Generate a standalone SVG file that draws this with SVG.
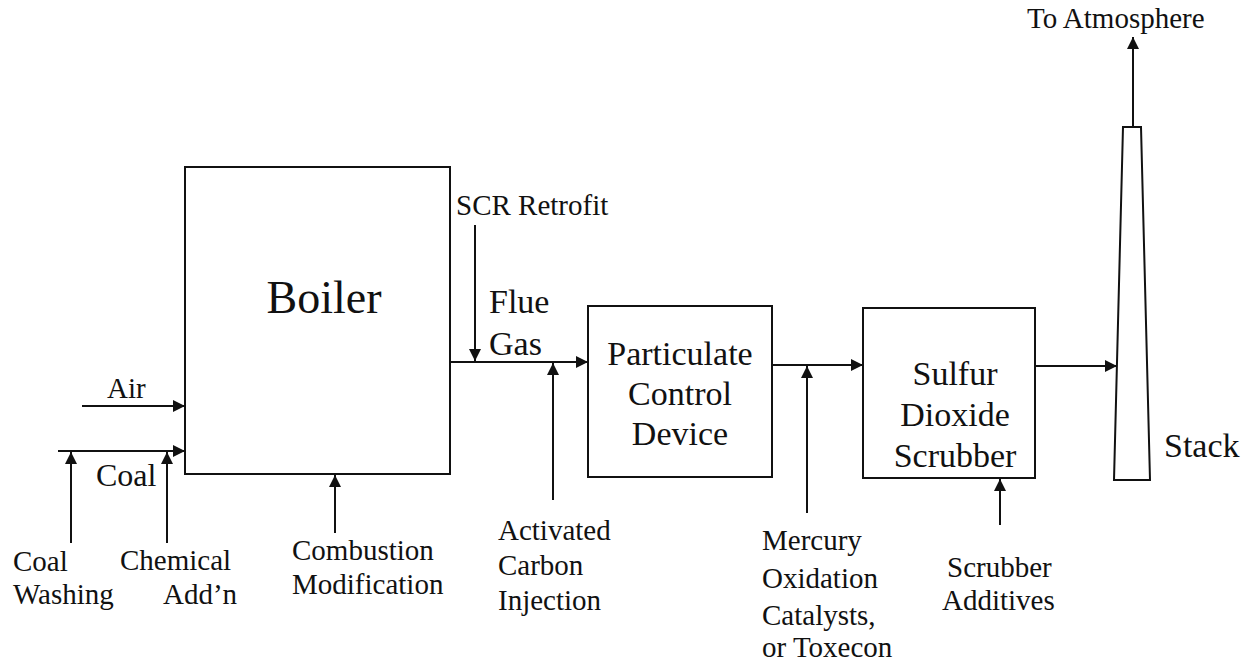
<svg xmlns="http://www.w3.org/2000/svg" width="1248" height="663" viewBox="0 0 1248 663">
<defs>
<style>
.box{fill:#fff;stroke:#111;stroke-width:2}
.ar{fill:none;stroke:#111;stroke-width:2;marker-end:url(#ah)}
.lb{font-size:29px}
.big{font-size:34px}
.mid{text-anchor:middle}
</style>
<marker id="ah" viewBox="0 0 12 12" refX="12" refY="6" markerUnits="userSpaceOnUse" markerWidth="13" markerHeight="12" orient="auto">
<path d="M0,0 L12,6 L0,12 z" fill="#111"/>
</marker>
</defs>
<rect width="1248" height="663" fill="#fff"/>
<g id="connectors">
<line class="ar" x1="82" y1="406" x2="185" y2="406"/>
<line class="ar" x1="58" y1="451" x2="185" y2="451"/>
<line class="ar" x1="71" y1="543" x2="71" y2="452"/>
<line class="ar" x1="167" y1="543" x2="167" y2="452"/>
<line class="ar" x1="335" y1="533" x2="335" y2="475"/>
<line class="ar" x1="450" y1="362" x2="588" y2="362"/>
<line class="ar" x1="475" y1="225" x2="475" y2="361"/>
<line class="ar" x1="553" y1="500" x2="553" y2="363"/>
<line class="ar" x1="772" y1="365" x2="863" y2="365"/>
<line class="ar" x1="807" y1="513" x2="807" y2="366"/>
<line class="ar" x1="1000" y1="525" x2="1000" y2="479"/>
<line class="ar" x1="1035" y1="366" x2="1117" y2="366"/>
<line class="ar" x1="1133" y1="127" x2="1133" y2="37"/>
</g>
<g font-family="'Liberation Serif', 'Times New Roman', serif" fill="#111">
<g id="boiler">
<rect class="box" x="185" y="167" width="265" height="307"/>
<text x="324" y="313" class="mid" font-size="46">Boiler</text>
</g>
<g id="particulate">
<rect class="box" x="588" y="306" width="184" height="171"/>
<text x="680" y="365" class="mid big">Particulate</text>
<text x="680" y="405" class="mid big">Control</text>
<text x="680" y="445" class="mid big">Device</text>
</g>
<g id="scrubber">
<rect class="box" x="863" y="308" width="172" height="170"/>
<text x="955" y="385" class="mid big">Sulfur</text>
<text x="955" y="426" class="mid big">Dioxide</text>
<text x="955" y="467" class="mid big">Scrubber</text>
</g>
<g id="stack">
<polygon class="box" points="1123,127 1141,127 1150,480 1114,480"/>
<text x="1164" y="457" class="big">Stack</text>
</g>
<g id="labels">
<text x="107" y="398" class="lb">Air</text>
<text x="96" y="486" font-size="32">Coal</text>
<text x="13" y="571" class="lb">Coal</text>
<text x="13" y="604" class="lb">Washing</text>
<text x="120" y="570" class="lb">Chemical</text>
<text x="163" y="604" class="lb">Add’n</text>
<text x="292" y="560" class="lb">Combustion</text>
<text x="292" y="594" class="lb">Modification</text>
<text x="456" y="215" class="lb">SCR Retrofit</text>
<text x="489" y="313" class="big">Flue</text>
<text x="489" y="355" class="big">Gas</text>
<text x="498" y="540" class="lb">Activated</text>
<text x="498" y="575" class="lb">Carbon</text>
<text x="498" y="610" class="lb">Injection</text>
<text x="762" y="550" class="lb">Mercury</text>
<text x="762" y="588" class="lb">Oxidation</text>
<text x="762" y="625" class="lb">Catalysts,</text>
<text x="762" y="657" class="lb">or Toxecon</text>
<text x="947" y="577" class="lb">Scrubber</text>
<text x="942" y="610" class="lb">Additives</text>
<text x="1027" y="28" class="lb">To Atmosphere</text>
</g>
</g>
</svg>
